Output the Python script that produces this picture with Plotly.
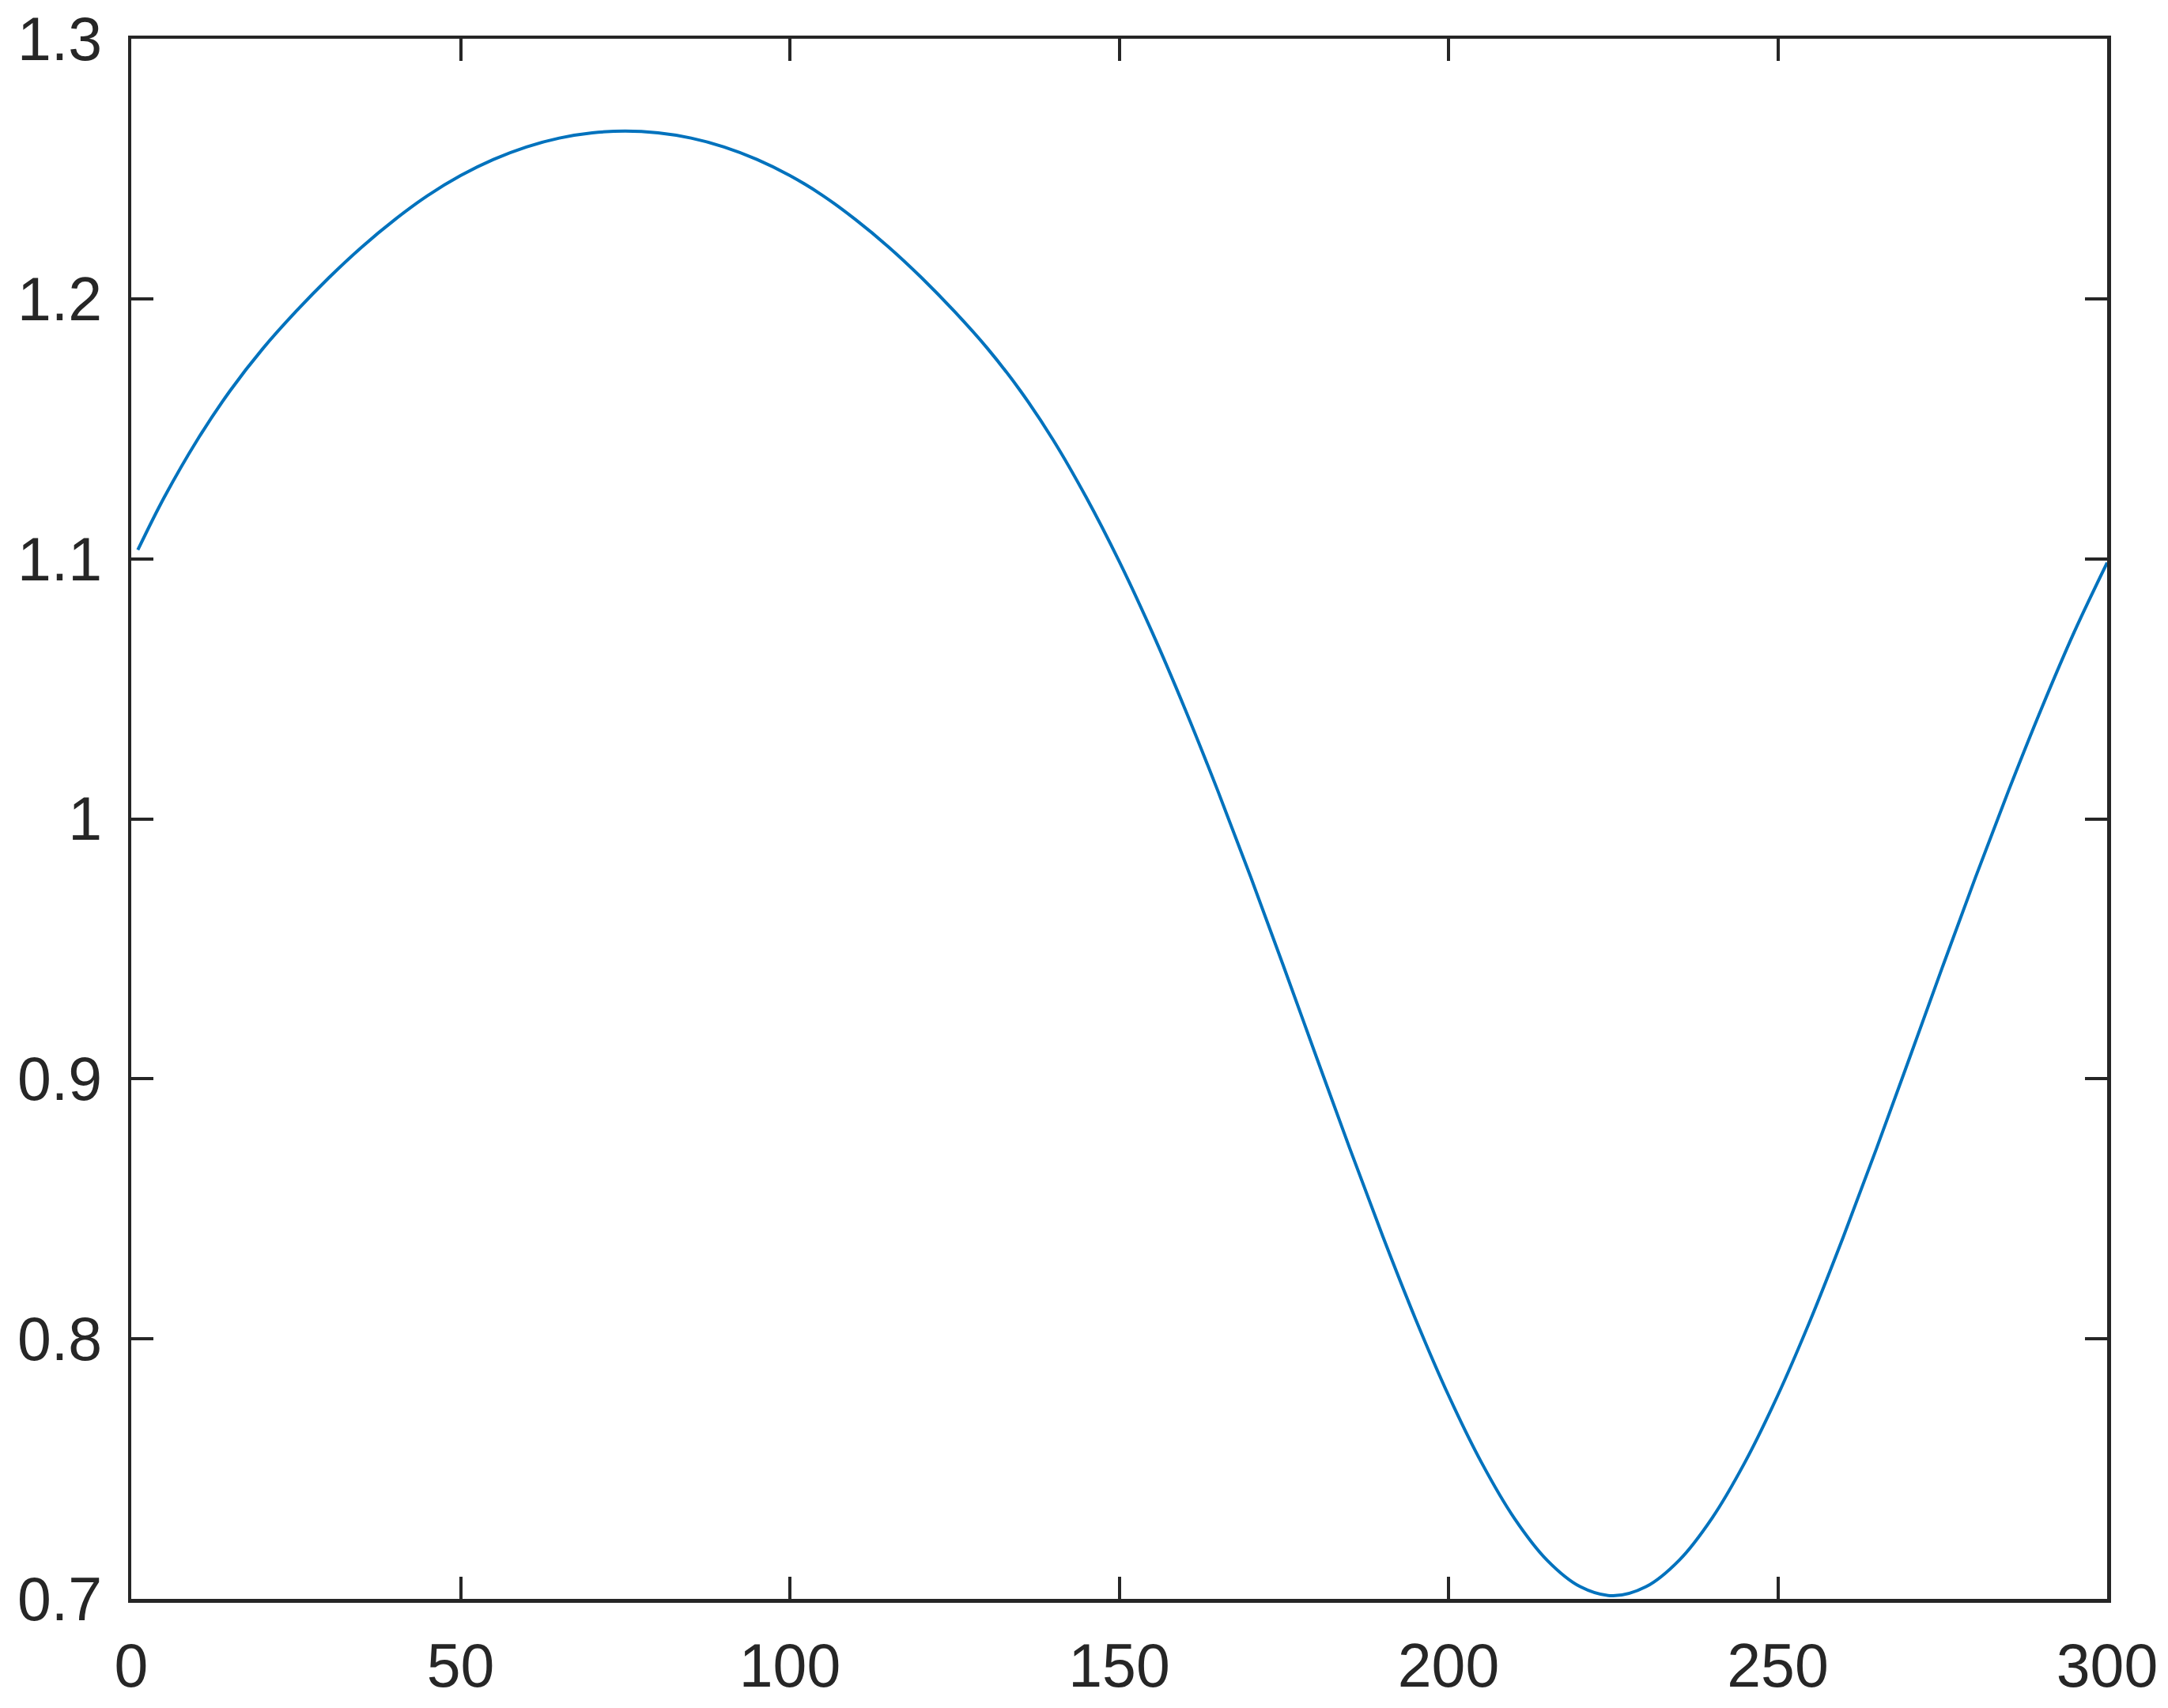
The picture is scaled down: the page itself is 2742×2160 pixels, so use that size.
import plotly.graph_objects as go

# x positions (sample index) and values
x_vals = [1, 5, 10, 15, 20, 25, 30, 35, 40, 45, 50, 55, 60, 65, 70, 75,
          80, 85, 90, 95, 100, 105, 110, 115, 120, 125, 130, 135, 140, 145,
          150, 155, 160, 165, 170, 175, 180, 185, 190, 195, 200, 205, 210,
          215, 220, 225, 230, 235, 240, 245, 250, 255, 260, 265, 270, 275,
          280, 285, 290, 295, 300]
y_vals = [1.1034, 1.1236, 1.1456, 1.1646, 1.1809, 1.1951, 1.2081, 1.2199, 1.2304,
          1.2397, 1.2474, 1.2536, 1.2584, 1.2618, 1.2638, 1.2645,
          1.2638, 1.2618, 1.2584, 1.2536, 1.2474, 1.2397, 1.2304, 1.2199,
          1.2081, 1.1951, 1.1809, 1.1646, 1.1456, 1.1236,
          1.0990, 1.0718, 1.0422, 1.0106, 0.9774, 0.9430, 0.9080, 0.8733,
          0.8396, 0.8076, 0.7783, 0.7525, 0.7310, 0.7148, 0.7047, 0.7012,
          0.7047, 0.7148, 0.7310, 0.7525, 0.7783, 0.8076, 0.8396, 0.8733,
          0.9080, 0.9430, 0.9774, 1.0106, 1.0422, 1.0718, 1.0985]

x_ticks = [0, 50, 100, 150, 200, 250, 300]
x_tick_text = ["0", "50", "100", "150", "200", "250", "300"]
y_ticks = [0.7, 0.8, 0.9, 1.0, 1.1, 1.2, 1.3]
y_tick_text = ["0.7", "0.8", "0.9", "1", "1.1", "1.2", "1.3"]

AX = "#262626"
FONT = dict(family="Liberation Sans, Arial, Helvetica, sans-serif", size=77, color=AX)

fig = go.Figure()
fig.add_trace(go.Scatter(
    x=x_vals, y=y_vals, mode="lines",
    line=dict(color="#0072BD", width=4, shape="spline", smoothing=1.0),
    showlegend=False, hoverinfo="skip",
))

axis_common = dict(
    showline=True, linecolor=AX, linewidth=4.5, mirror="ticks",
    ticks="inside", ticklen=28, tickwidth=4, tickcolor=AX,
    showgrid=False, zeroline=False, tickfont=FONT, automargin=False,
    ticklabeloverflow="allow",
)

fig.update_xaxes(range=[0, 300], tickvals=x_ticks, ticktext=x_tick_text,
                 ticklabelstandoff=14, **axis_common)
fig.update_yaxes(range=[0.7, 1.3], tickvals=y_ticks, ticktext=y_tick_text,
                 ticklabelstandoff=17, **axis_common)

fig.update_layout(
    width=2742, height=2160,
    margin=dict(l=166, r=77, t=49, b=138, pad=0),
    paper_bgcolor="white", plot_bgcolor="white",
    font=FONT,
)

# remove the browser's default 8px body margin so the figure fills the window exactly
fig.write_html("out.html",
               config={"displayModeBar": False, "staticPlot": True},
               post_script="document.body.style.margin='0';document.body.style.overflow='hidden';")
